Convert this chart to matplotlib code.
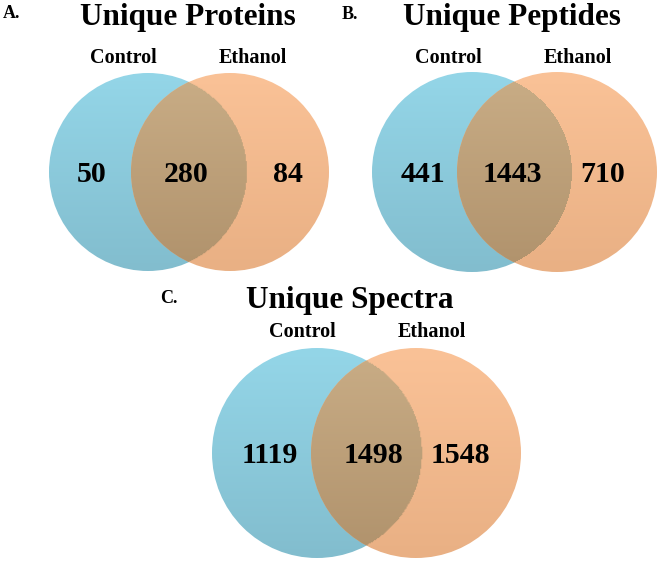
import numpy as np
import matplotlib
matplotlib.use("Agg")
from matplotlib import pyplot as plt
from matplotlib.patches import Circle

# data
panel_letters = ["A.", "B.", "C."]
panel_titles = ["Unique Proteins", "Unique Peptides", "Unique Spectra"]
set_names = ["Control", "Ethanol"]
only_control = [50, 441, 1119]
shared = [280, 1443, 1498]
only_ethanol = [84, 710, 1548]

# layout in pixel units: left circle centre, centre distance, radius,
# and x positions for the texts of each panel
layout = [
    dict(cx=148, cy=172, d=82, r=99, letter=(3, 18), title=(188, 25),
         names=(123, 253), name_y=63, nums=(92, 186, 288), num_y=182),
    dict(cx=472, cy=172, d=85, r=100, letter=(342, 19), title=(512, 25),
         names=(448, 578), name_y=63, nums=(423, 512, 603), num_y=182),
    dict(cx=317, cy=453, d=99, r=105, letter=(160, 303), title=(350, 308),
         names=(302, 432), name_y=337, nums=(270, 373, 460), num_y=463),
]

blue_top, blue_bot = (148, 214, 232), (130, 189, 206)
orange_top, orange_bot = (250, 194, 151), (233, 176, 132)
mix_top, mix_bot = (201, 173, 134), (176, 146, 108)

font = "Liberation Serif"


def gradient(top, bot, mask=None):
    t = np.linspace(0, 1, 200)[:, None]
    img = np.zeros((200, 200, 4))
    for k in range(3):
        img[:, :, k] = (top[k] + (bot[k] - top[k]) * t) / 255.0
    img[:, :, 3] = 1.0
    if mask is not None:
        img[:, :, 3] = mask
    return img


fig = plt.figure(figsize=(6.61, 5.62), dpi=100)
ax = fig.add_axes([0, 0, 1, 1])
ax.set_xlim(0, 661)
ax.set_ylim(562, 0)
ax.axis("off")

for i, L in enumerate(layout):
    cx, cy, d, r = L["cx"], L["cy"], L["d"], L["r"]
    centres = [cx, cx + d]
    cols = [(blue_top, blue_bot), (orange_top, orange_bot)]
    for c, (top, bot) in zip(centres, cols):
        ext = [c - r, c + r, cy + r, cy - r]
        im = ax.imshow(gradient(top, bot), extent=ext, interpolation="bilinear")
        im.set_clip_path(Circle((c, cy), r, transform=ax.transData))
    # overlap lens: clip to right circle, mask out everything outside left one
    ext = [cx + d - r, cx + d + r, cy + r, cy - r]
    xs = np.linspace(ext[0], ext[1], 200)
    ys = np.linspace(ext[3], ext[2], 200)
    X, Y = np.meshgrid(xs, ys)
    inside = ((X - cx) ** 2 + (Y - cy) ** 2 <= r ** 2).astype(float)
    im = ax.imshow(gradient(mix_top, mix_bot, inside), extent=ext, interpolation="bilinear")
    im.set_clip_path(Circle((cx + d, cy), r, transform=ax.transData))

    ax.text(L["letter"][0], L["letter"][1], panel_letters[i], fontsize=13,
            fontweight="bold", family=font, va="baseline", ha="left")
    ax.text(L["title"][0], L["title"][1], panel_titles[i], fontsize=22.5,
            fontweight="bold", family=font, ha="center", va="baseline")
    for nx, name in zip(L["names"], set_names):
        ax.text(nx, L["name_y"], name, fontsize=14.5, fontweight="bold",
                family=font, ha="center", va="baseline")
    counts = [only_control[i], shared[i], only_ethanol[i]]
    for nx, n in zip(L["nums"], counts):
        ax.text(nx, L["num_y"], str(n), fontsize=21.5, fontweight="bold",
                family=font, ha="center", va="baseline")

fig.savefig("out.png", dpi=100)
